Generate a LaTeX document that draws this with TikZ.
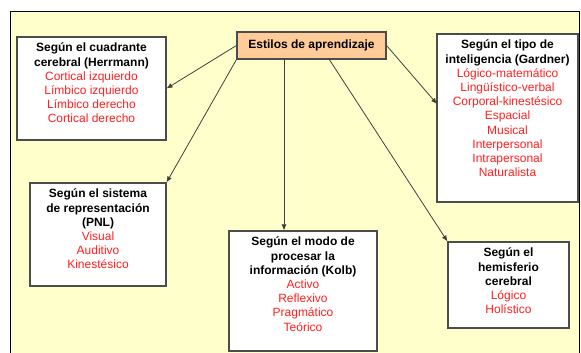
\documentclass[tikz,border=0pt]{standalone}
\usepackage{fontspec}
\setmainfont{Liberation Sans}
\usetikzlibrary{arrows.meta}
\definecolor{bgyellow}{HTML}{FFFFCC}
\definecolor{rootorange}{HTML}{FFCC99}
\definecolor{itemred}{HTML}{FF2020}
\newcommand{\itm}[1]{\textcolor{itemred}{#1}}
\tikzset{
  box/.style={draw=black!70, line width=1.1pt, fill=white, inner sep=0pt},
  boxtext/.style={anchor=north, align=center, inner sep=0pt,
    font=\fontsize{12}{14.2}\selectfont},
  link/.style={draw=black!75, line width=0.8pt, -{Latex[length=6pt,width=5pt]}}
}
\begin{document}
\begin{tikzpicture}[x=1pt, y=-1pt]
      \useasboundingbox (0,0) rectangle (581,353);
      \clip (0,0) rectangle (581,353);
      \fill[white] (0,0) rectangle (581,353);
      \draw[fill=bgyellow, line width=1pt] (10,12) rectangle (579,370);
      % boxes
      \node[box, fill=rootorange, minimum width=149, minimum height=27] (est) at (311.5,45.5) {};
      \node[box, minimum width=149, minimum height=103] (herr) at (91.5,88.5) {};
      \node[box, minimum width=141, minimum height=168] (gard) at (507.5,118) {};
      \node[box, minimum width=136, minimum height=103] (pnl) at (98,234.5) {};
      \node[box, minimum width=148, minimum height=120] (kolb) at (303,291) {};
      \node[box, minimum width=121, minimum height=86] (hem) at (508.5,285) {};
      % texts
      \node[font=\fontsize{12}{14.2}\selectfont\bfseries] (estt) at (est) {Estilos de aprendizaje};
      \node[boxtext] (herrt) at ([yshift=-6.5]herr.north)
        {\textbf{Según el cuadrante}\\\textbf{cerebral (Herrmann)}\\\itm{Cortical izquierdo}\\
         \itm{Límbico izquierdo}\\\itm{Límbico derecho}\\\itm{Cortical derecho}};
      \node[boxtext] (gardt) at ([yshift=-6.5]gard.north)
        {\textbf{Según el tipo de}\\\textbf{inteligencia (Gardner)}\\\itm{Lógico-matemático}\\
         \itm{Lingüístico-verbal}\\\itm{Corporal-kinestésico}\\\itm{Espacial}\\\itm{Musical}\\
         \itm{Interpersonal}\\\itm{Intrapersonal}\\\itm{Naturalista}};
      \node[boxtext] (pnlt) at ([yshift=-6.5]pnl.north)
        {\textbf{Según el sistema}\\\textbf{de representación}\\\textbf{(PNL)}\\
         \itm{Visual}\\\itm{Auditivo}\\\itm{Kinestésico}};
      \node[boxtext] (kolbt) at ([yshift=-6.5]kolb.north)
        {\textbf{Según el modo de}\\\textbf{procesar la}\\\textbf{información (Kolb)}\\
         \itm{Activo}\\\itm{Reflexivo}\\\itm{Pragmático}\\\itm{Teórico}};
      \node[boxtext] (hemt) at ([yshift=-6.5]hem.north)
        {\textbf{Según el}\\\textbf{hemisferio}\\\textbf{cerebral}\\
         \itm{Lógico}\\\itm{Holístico}};
      % connectors
      \coordinate (kolbsrc) at (284,59);
      \coordinate (hemsrc) at (329,59);
      \coordinate (gardend) at (437,104);
      \begin{scope}[link]
        \draw (est.west) to (herr.east);
        \draw (est.south west) to (pnl.north east);
        \draw (kolbsrc) to (kolbsrc |- kolb.north);
        \draw (hemsrc) to (hem.north west);
        \draw (est.east) to (gardend);
      \end{scope}
    \end{tikzpicture}
\end{document}
